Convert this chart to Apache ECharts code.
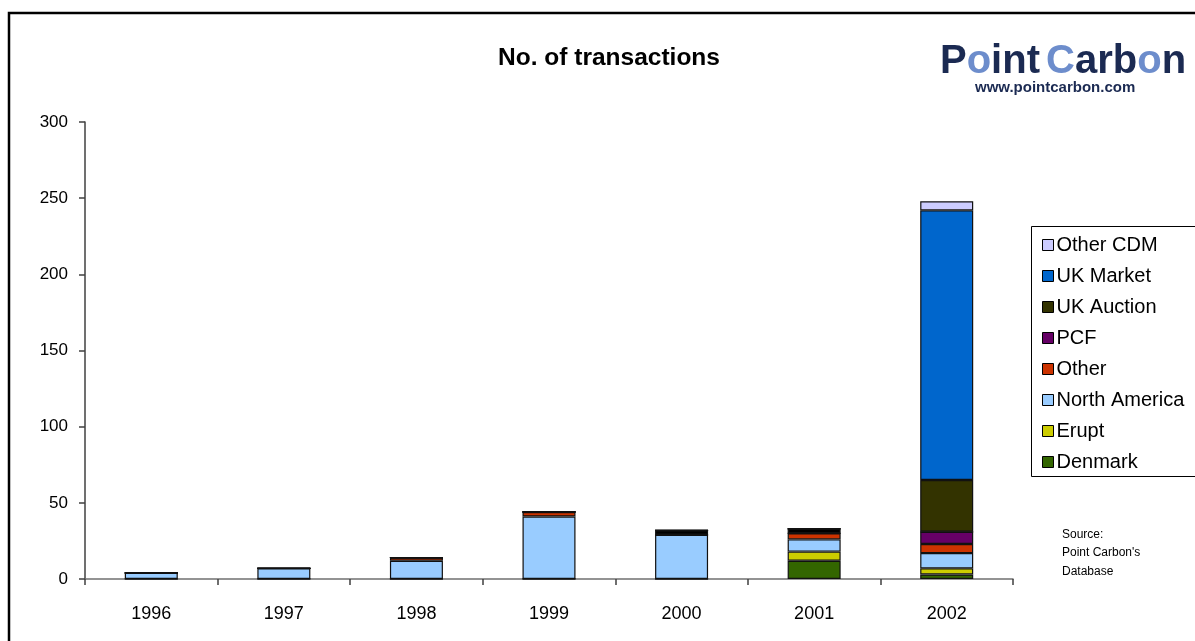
<!DOCTYPE html>
<html>
<head>
<meta charset="utf-8">
<script src="https://cdn.jsdelivr.net/npm/echarts@6/dist/echarts.min.js"></script>
<style>
  html, body { margin: 0; padding: 0; background: #ffffff; }
  #chart { width: 1195px; height: 641px; }
</style>
</head>
<body>
<div id="chart"></div>
<script>
// Number of transactions per year, stacked by market segment
const years = ['1996', '1997', '1998', '1999', '2000', '2001', '2002'];

const denmark      = [0, 0, 0, 0, 0, 12, 3];
const erupt        = [0, 0, 0, 0, 0, 6, 4];
const northAmerica = [4, 7, 12, 41, 29, 8, 10];
const other        = [0, 0, 2, 3, 0, 4, 6];
const pcf          = [0, 0, 0, 0, 0, 0, 8];
const unallocated  = [0, 0, 0, 0, 3, 3, 0];
const ukAuction    = [0, 0, 0, 0, 0, 0, 34];
const ukMarket     = [0, 0, 0, 0, 0, 0, 177];
const otherCdm     = [0, 0, 0, 0, 0, 0, 6];

const yTicks = { min: 0, max: 300, interval: 50 };

const FONT = 'Liberation Sans, Arial, sans-serif';

const segments = [
  { name: 'Denmark',       data: denmark,      color: '#336600' },
  { name: 'Erupt',         data: erupt,        color: '#cccc00' },
  { name: 'North America', data: northAmerica, color: '#99ccff' },
  { name: 'Other',         data: other,        color: '#cc3300' },
  { name: 'PCF',           data: pcf,          color: '#660066' },
  { name: 'Unallocated',   data: unallocated,  color: '#000000' },
  { name: 'UK Auction',    data: ukAuction,    color: '#333300' },
  { name: 'UK Market',     data: ukMarket,     color: '#0066cc' },
  { name: 'Other CDM',     data: otherCdm,     color: '#ccccff' }
];

const chart = echarts.init(document.getElementById('chart'), null, { renderer: 'canvas' });

chart.setOption({
  backgroundColor: '#ffffff',
  animation: false,
  title: {
    text: 'No. of transactions',
    left: 604,
    textAlign: 'center',
    top: 41,
    textStyle: { fontFamily: FONT, fontSize: 24.5, fontWeight: 'bold', color: '#000' }
  },
  grid: { left: 85, right: 182, top: 122, bottom: 62, containLabel: false },
  legend: {
    orient: 'vertical',
    left: 1037,
    top: 230,
    itemWidth: 11,
    itemHeight: 11,
    itemGap: 11,
    icon: 'rect',
    data: ['Other CDM', 'UK Market', 'UK Auction', 'PCF', 'Other', 'North America', 'Erupt', 'Denmark'],
    itemStyle: { borderColor: '#000', borderWidth: 1 },
    textStyle: { fontFamily: FONT, fontSize: 20, color: '#000', padding: [0, 0, 0, -2] },
    selectedMode: false
  },
  xAxis: {
    type: 'category',
    data: years,
    axisLine: { lineStyle: { color: '#707070', width: 1.5 } },
    axisTick: { show: true, length: 6, lineStyle: { color: '#404040', width: 1.5 } },
    axisLabel: { fontFamily: FONT, fontSize: 18, color: '#000', margin: 26 }
  },
  yAxis: {
    type: 'value',
    min: yTicks.min,
    max: yTicks.max,
    interval: yTicks.interval,
    splitLine: { show: false },
    axisLine: { show: true, lineStyle: { color: '#404040', width: 1.5 } },
    axisTick: { show: true, length: 6, lineStyle: { color: '#404040', width: 1.5 } },
    axisLabel: { fontFamily: FONT, fontSize: 17, color: '#000', margin: 17 }
  },
  series: segments.map(s => ({
    name: s.name,
    type: 'bar',
    stack: 'total',
    barWidth: 53,
    data: s.data,
    itemStyle: { color: s.color, borderColor: '#111', borderWidth: 1.2 }
  })),
  graphic: [
    // outer chart frame
    { type: 'rect', shape: { x: 9, y: 13, width: 1300, height: 700 }, style: { fill: 'none', stroke: '#000', lineWidth: 2.5 }, z: 100 },
    // legend frame
    { type: 'rect', shape: { x: 1031.5, y: 226.5, width: 200, height: 250 }, style: { fill: 'none', stroke: '#000', lineWidth: 1 }, z: 100 },
    // logo
    {
      type: 'text', left: 940, top: 42, z: 100,
      style: {
        text: '{d|P}{l|o}{d|int}{s| }{l|C}{d|arb}{l|o}{d|n}',
        rich: {
          d: { fontFamily: FONT, fontSize: 40, fontWeight: 'bold', fill: '#1b2a52' },
          l: { fontFamily: FONT, fontSize: 40, fontWeight: 'bold', fill: '#6d8dcc' },
          s: { fontFamily: FONT, fontSize: 22 }
        }
      }
    },
    {
      type: 'text', left: 975, top: 80, z: 100,
      style: { text: 'www.pointcarbon.com', fontFamily: FONT, fontSize: 15, fontWeight: 'bold', fill: '#1b2a52' }
    },
    // source note
    {
      type: 'text', left: 1062, top: 525, z: 100,
      style: { text: 'Source:\nPoint Carbon\'s\nDatabase', fontFamily: FONT, fontSize: 12, lineHeight: 18.5, fill: '#000' }
    }
  ]
});
</script>
</body>
</html>
